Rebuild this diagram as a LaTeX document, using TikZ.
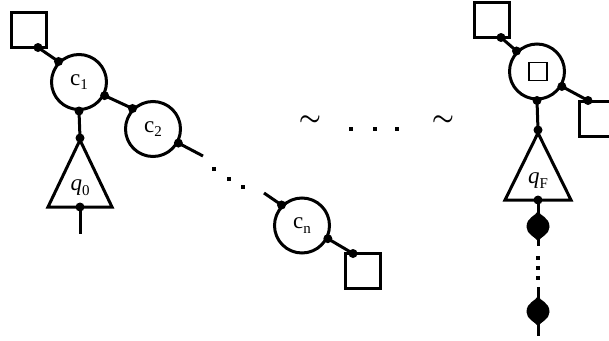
\documentclass[tikz,border=0pt]{standalone}
\usepackage{fontspec}
\setmainfont{Liberation Serif}
\newcommand\lsub[1]{\raisebox{-0.45ex}{\fontsize{15}{15}\selectfont #1}}
\begin{document}
\begin{tikzpicture}[x=1pt,y=-1pt,
  ln/.style={line width=3pt},
  state/.style={circle,draw,line width=3pt,minimum size=55pt,inner sep=0pt,font=\fontsize{23}{26}\selectfont},
  box/.style={rectangle,draw,line width=3pt,minimum size=35pt,inner sep=0pt},
  smallbox/.style={rectangle,draw,line width=1.6pt,minimum size=18pt,inner sep=0pt},
  lbl/.style={font=\fontsize{23}{26}\selectfont,inner sep=0pt},
  tild/.style={font=\fontsize{26}{30}\selectfont\boldmath,inner sep=0pt},
  pin/.style={circle,fill,inner sep=0pt,minimum size=9pt},
  sdot/.style={rectangle,fill,inner sep=0pt,minimum size=3.2pt}]
\useasboundingbox (0,0) rectangle (609,340);
\clip (0,0) rectangle (609,340);

% ---------- left part ----------
\node[box] (s0) at (28.5,29.5) {};
\node[state] (c1) at (79,82) {c\lsub{1}};
\node[state] (c2) at (153,129) {c\lsub{2}};
\node[state] (cn) at (302,225.5) {c\lsub{n}};
\node[box] (sn) at (363,271) {};

\coordinate (s0d) at (38,47.5);
\coordinate (snd) at (353,253.5);
\coordinate (e1) at (203,156);
\coordinate (e2) at (264,193);
\coordinate (t0top) at (80,138);
\coordinate (t0bot) at (80,207);
\coordinate (t0end) at (80,234);

\draw[ln] (s0d) -- (c1.135);
\draw[ln] (c1.-28) -- (c2.135);
\draw[ln] (c2.-29) -- (e1);
\draw[ln] (e2) -- (cn.135);
\draw[ln] (cn.-27) -- (snd);
\draw[ln] (c1.-90) -- (t0top);
\draw[ln,line join=miter] (80,140) -- (112,207) -- (48,207) -- cycle;
\draw[ln] (t0bot) -- (t0end);
\node[lbl] (q0) at (80,188) {\textit{q}\lsub{0}};

\foreach \p in {s0d,c1.135,c1.-28,c2.135,c2.-29,cn.135,cn.-27,snd,c1.-90,t0top,t0bot}
  \node[pin] at (\p) {};

\node[sdot] (d1) at (214,169) {};
\node[sdot] (d2) at (229,179) {};
\node[sdot] (d3) at (243,187) {};

% ---------- middle ----------
\node[tild] (tl) at (310,121) {$\sim$};
\node[tild] (tr) at (443,121) {$\sim$};
\node[sdot] (h1) at (351,129) {};
\node[sdot] (h2) at (375,129) {};
\node[sdot] (h3) at (397,129) {};

% ---------- right part ----------
\node[box] (sF) at (492,20) {};
\node[state] (cF) at (537,71.5) {};
\node[smallbox] (inner) at (538,71.5) {};
\node[box] (sR) at (597,118.5) {};

\coordinate (sFd) at (501,37.5);
\coordinate (sRd) at (588,100.5);
\coordinate (tFtop) at (538,130);
\coordinate (tFbot) at (538,200);
\coordinate (v1) at (538,246);
\coordinate (v2) at (538,287);
\coordinate (v3) at (538,336);

\draw[ln] (sFd) -- (cF.135);
\draw[ln] (cF.-31) -- (sRd);
\draw[ln] (cF.-90) -- (tFtop);
\draw[ln,line join=miter] (538,133) -- (571,200) -- (505,200) -- cycle;
\node[lbl] (qF) at (538,181) {\textit{q}\lsub{F}};
\draw[ln] (tFbot) -- (v1);
\draw[ln] (v2) -- (v3);

\foreach \p in {sFd,cF.135,cF.-31,sRd,cF.-90,tFtop,tFbot}
  \node[pin] at (\p) {};

\foreach \t in {211,296}
  \fill (538,\t) .. controls (540,\t+5) and (549.5,\t+6) .. (549.5,\t+16)
        .. controls (549.5,\t+23) and (541,\t+26) .. (538,\t+30)
        .. controls (535,\t+26) and (526.5,\t+23) .. (526.5,\t+16)
        .. controls (526.5,\t+6) and (536,\t+5) .. (538,\t) -- cycle;

\node[sdot] (vd1) at (538,258) {};
\node[sdot] (vd2) at (538,268) {};
\node[sdot] (vd3) at (538,278) {};
\end{tikzpicture}
\end{document}
